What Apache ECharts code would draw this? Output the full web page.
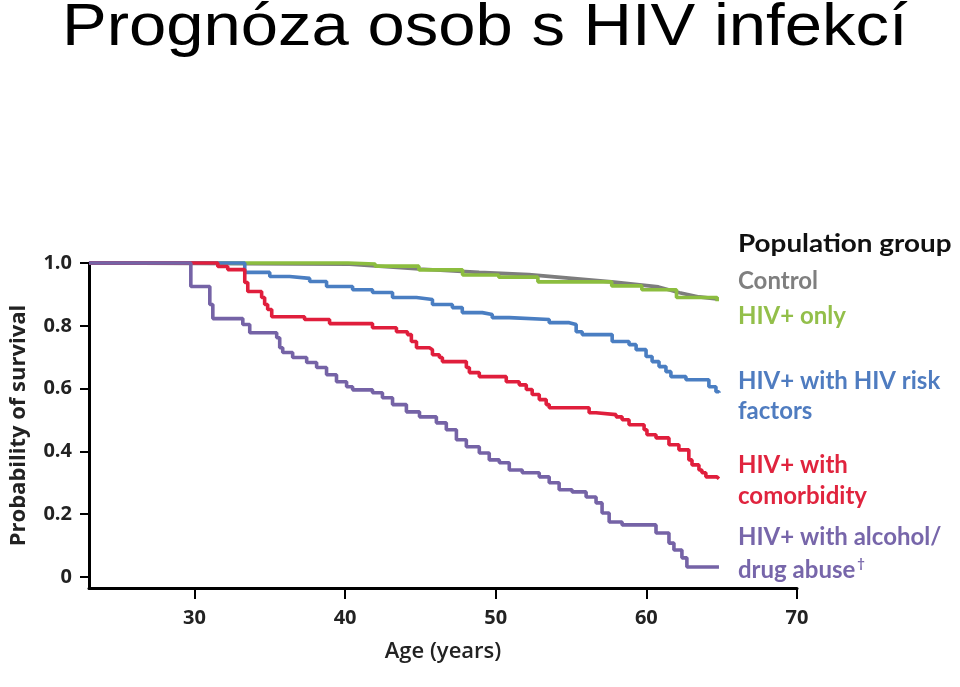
<!DOCTYPE html>
<html>
<head>
<meta charset="utf-8">
<script src="https://cdn.jsdelivr.net/npm/echarts@6/dist/echarts.min.js"></script>
<style>
html,body{margin:0;padding:0;background:#fff;}
#chart{width:960px;height:687px;}
</style>
</head>
<body>
<div id="chart"></div>
<script>
// ---- data (age in years, probability of survival) ----
const chartTitle = 'Prognóza osob s HIV infekcí';
const xTicks = [30, 40, 50, 60, 70];
const yTicks = [0, 0.2, 0.4, 0.6, 0.8, 1.0];

const controlAges   = [23, 40.3, 44.9, 48.9, 52.2, 57.7, 60.8, 62.2, 63.5, 64.8];
const controlValues = [1.0, 0.996, 0.981, 0.970, 0.963, 0.940, 0.924, 0.905, 0.892, 0.885];

const hivOnlyAges   = [23, 40.2, 42.0, 44.9, 47.8, 50.2, 52.8, 57.7, 59.7, 62.0, 64.7];
const hivOnlyValues = [1.0, 0.997, 0.990, 0.978, 0.962, 0.955, 0.940, 0.927, 0.915, 0.890, 0.878];

const riskAges   = [23, 33.34, 35.0, 36.32, 37.65, 38.77, 40.5, 41.82, 43.15, 44.74, 45.8, 47.12, 47.78, 49.11, 49.77, 50.9, 53.55, 54.88, 55.34, 55.74, 57.73, 58.85, 59.32, 59.98, 60.38, 60.84, 61.3, 61.63, 62.63, 64.15, 64.62, 64.82];
const riskValues = [1.0, 0.970, 0.957, 0.951, 0.941, 0.925, 0.915, 0.906, 0.890, 0.884, 0.868, 0.858, 0.842, 0.836, 0.826, 0.820, 0.810, 0.804, 0.781, 0.772, 0.750, 0.740, 0.724, 0.702, 0.686, 0.670, 0.654, 0.638, 0.628, 0.606, 0.590, 0.587];

const comorbAges   = [23, 31.55, 32.21, 33.34, 33.54, 34.46, 34.66, 34.86, 35.13, 37.31, 38.97, 41.82, 43.41, 44.14, 44.4, 44.74, 45.6, 45.8, 46.26, 46.46, 48.05, 48.25, 48.91, 50.7, 51.56, 52.03, 52.42, 52.89, 53.35, 53.55, 56.2, 56.66, 57.99, 58.39, 58.85, 59.85, 60.04, 60.64, 61.5, 62.16, 62.82, 63.03, 63.49, 63.69, 63.95, 64.68, 64.82];
const comorbValues = [1.0, 0.989, 0.979, 0.938, 0.909, 0.890, 0.868, 0.852, 0.829, 0.820, 0.807, 0.794, 0.781, 0.772, 0.750, 0.730, 0.724, 0.708, 0.699, 0.686, 0.667, 0.651, 0.638, 0.622, 0.612, 0.597, 0.581, 0.565, 0.549, 0.539, 0.523, 0.517, 0.510, 0.501, 0.485, 0.469, 0.453, 0.443, 0.421, 0.405, 0.373, 0.357, 0.341, 0.332, 0.319, 0.313, 0.313];

const abuseAges   = [23, 29.76, 31.02, 31.22, 33.21, 33.67, 35.46, 35.66, 35.86, 36.52, 37.45, 38.11, 38.77, 39.43, 40.1, 40.5, 41.82, 42.48, 43.15, 44.07, 44.94, 46.06, 46.72, 47.39, 48.05, 48.91, 49.57, 50.24, 50.9, 51.76, 52.89, 53.55, 54.21, 55.07, 56.0, 56.66, 57.06, 57.53, 58.39, 60.64, 61.5, 61.83, 62.36, 62.69, 64.82];
const abuseValues = [1.0, 0.925, 0.868, 0.823, 0.804, 0.778, 0.762, 0.730, 0.715, 0.699, 0.683, 0.667, 0.644, 0.622, 0.606, 0.596, 0.587, 0.571, 0.549, 0.526, 0.510, 0.491, 0.469, 0.437, 0.415, 0.395, 0.373, 0.364, 0.341, 0.332, 0.319, 0.300, 0.278, 0.271, 0.255, 0.236, 0.204, 0.175, 0.166, 0.140, 0.108, 0.086, 0.061, 0.032, 0.032];

const seriesNames = ['Control', 'HIV+ only', 'HIV+ with HIV risk factors', 'HIV+ with comorbidity', 'HIV+ with alcohol/drug abuse'];
const legendLines = ['Population group', 'Control', 'HIV+ only', 'HIV+ with HIV risk', 'factors', 'HIV+ with', 'comorbidity', 'HIV+ with alcohol/', 'drug abuse'];
const colors = ['#7d7d7d', '#8cbd3f', '#4a7ec2', '#e01e3c', '#7563a6'];

function zip(a, b) { return a.map((x, i) => [x, b[i]]); }

const chart = echarts.init(document.getElementById('chart'));
const AXFONT = '"Open Sans", sans-serif';
const LGFONT = 'Lato, "Open Sans", sans-serif';

function lineSeries(name, ages, vals, color, step) {
  return {
    name: name,
    type: 'line',
    step: step ? 'end' : false,
    data: zip(ages, vals),
    showSymbol: false,
    symbol: 'none',
    clip: false,
    lineStyle: { color: color, width: 3.6 },
    itemStyle: { color: color },
    emphasis: { disabled: true }
  };
}

const legendY = [244, 281, 316, 381, 411, 465, 496, 537, 570];
const legendColors = ['#111111', '#7f7f7f', '#93bf4a', '#4f7cc0', '#4f7cc0', '#e0243e', '#e0243e', '#7766aa', '#7766aa'];

const graphics = [{
  type: 'text',
  x: 62,
  y: -2,
  scaleX: 1.117,
  style: {
    text: chartTitle,
    fill: '#000',
    font: '60px "Liberation Sans", Arial, sans-serif',
    align: 'left',
    verticalAlign: 'top'
  }
}];
legendLines.forEach((t, i) => {
  const last = i === legendLines.length - 1;
  graphics.push({
    type: 'text',
    x: 738,
    y: legendY[i],
    scaleX: i === 0 ? 1.16 : 1,
    style: last ? {
      text: '{a|' + t + '}{s|†}',
      align: 'left',
      verticalAlign: 'middle',
      rich: {
        a: { fill: legendColors[i], font: 'bold 24px ' + LGFONT },
        s: { fill: legendColors[i], font: 'bold 13px ' + LGFONT, padding: [0, 0, 12, 2] }
      }
    } : {
      text: t,
      fill: legendColors[i],
      font: 'bold 24px ' + LGFONT,
      align: 'left',
      verticalAlign: 'middle'
    }
  });
});

chart.setOption({
  animation: false,
  backgroundColor: '#fff',
  grid: { left: 89, right: 163, top: 263, bottom: 99 },
  xAxis: {
    type: 'value',
    min: 23,
    max: 70,
    name: 'Age (years)',
    nameLocation: 'middle',
    nameGap: 53,
    nameTextStyle: { fontFamily: AXFONT, fontSize: 22, fontWeight: 600, color: '#222' },
    axisLine: { show: true, onZero: false, lineStyle: { color: '#000', width: 3 } },
    axisTick: { show: true, customValues: xTicks, length: 11, lineStyle: { color: '#000', width: 2 } },
    axisLabel: { customValues: xTicks, margin: 20, fontFamily: AXFONT, fontSize: 20, fontWeight: 'bold', color: '#222' },
    splitLine: { show: false }
  },
  yAxis: {
    type: 'value',
    min: -0.035,
    max: 1.0,
    name: 'Probability of survival',
    nameLocation: 'middle',
    nameGap: 59,
    nameRotate: 90,
    nameTextStyle: { fontFamily: AXFONT, fontSize: 22, fontWeight: 'bold', color: '#222' },
    axisLine: { show: true, onZero: false, lineStyle: { color: '#000', width: 3 } },
    axisTick: { show: true, customValues: yTicks, length: 9, lineStyle: { color: '#000', width: 2 } },
    axisLabel: {
      customValues: yTicks, margin: 17, fontFamily: AXFONT, fontSize: 20, fontWeight: 'bold', color: '#222',
      formatter: v => (v === 0 ? '0' : v.toFixed(1))
    },
    splitLine: { show: false }
  },
  series: [
    lineSeries(seriesNames[0], controlAges, controlValues, colors[0], false),
    lineSeries(seriesNames[1], hivOnlyAges, hivOnlyValues, colors[1], true),
    lineSeries(seriesNames[2], riskAges, riskValues, colors[2], true),
    lineSeries(seriesNames[3], comorbAges, comorbValues, colors[3], true),
    lineSeries(seriesNames[4], abuseAges, abuseValues, colors[4], true)
  ],
  graphic: graphics
});
</script>
</body>
</html>
